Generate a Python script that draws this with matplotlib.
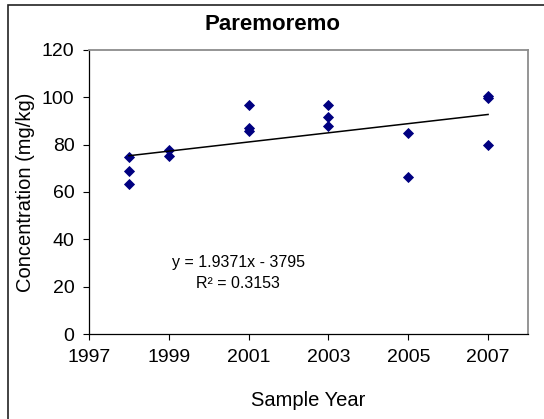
import matplotlib.pyplot as plt
from matplotlib.patches import Rectangle
import numpy as np

# data
years = [1998, 1998, 1998, 1999, 1999, 2001, 2001, 2001,
         2003, 2003, 2003, 2005, 2005, 2007, 2007, 2007]
conc = [74.7, 69.0, 63.4, 77.9, 75.1, 96.7, 87.0, 85.6,
        96.7, 91.8, 87.7, 84.8, 66.5, 100.6, 99.9, 80.0]
slope = 1.9371
intercept = -3795
r2 = 0.3153
xticks = [1997, 1999, 2001, 2003, 2005, 2007]
yticks = [0, 20, 40, 60, 80, 100, 120]

plt.rcParams['font.family'] = ['Liberation Sans', 'DejaVu Sans']

fig = plt.figure(figsize=(5.44, 4.19), dpi=100)
ax = fig.add_axes([89/544, 1-334/419, (528-89)/544, (334-50)/419])

# outer frame (runs off the right and bottom edges)
fig.patches.append(Rectangle((8/544, -0.1), 1.2, 1.1-5/419, transform=fig.transFigure,
                             fill=False, edgecolor='#222222', linewidth=1.2))

ax.plot(years, conc, linestyle='none', marker='D', markersize=4.6,
        color='#000080', markeredgewidth=0.6)

# trend line
xt = np.array([min(years), max(years)])
ax.plot(xt, slope*xt + intercept, color='black', linewidth=1.1)

ax.set_xlim(1997, 2008)
ax.set_ylim(0, 120)
ax.set_xticks(xticks)
ax.set_yticks(yticks)
ax.tick_params(direction='out', length=4.5, width=0.8, labelsize=14, pad=6)

for s in ['left', 'bottom']:
    ax.spines[s].set_color('black')
    ax.spines[s].set_linewidth(0.9)
for s in ['top', 'right']:
    ax.spines[s].set_color('#8c8c8c')
    ax.spines[s].set_linewidth(1.3)

fig.text(272/544, 1-25/419, 'Paremoremo', ha='center', va='center',
         fontsize=16, fontweight='bold')
fig.text(26/544, 1-192/419, 'Concentration (mg/kg)', ha='center', va='center',
         rotation=90, fontsize=14.5)
fig.text(308/544, 1-400/419, 'Sample Year', ha='center', va='center', fontsize=14.5)

fig.text(238/544, 1-262/419, f'y = {slope}x - {-intercept}', ha='center', va='center', fontsize=11.5)
fig.text(238/544, 1-284/419, f'R² = {r2}', ha='center', va='center', fontsize=11.5)

fig.savefig('out.png', dpi=100)
